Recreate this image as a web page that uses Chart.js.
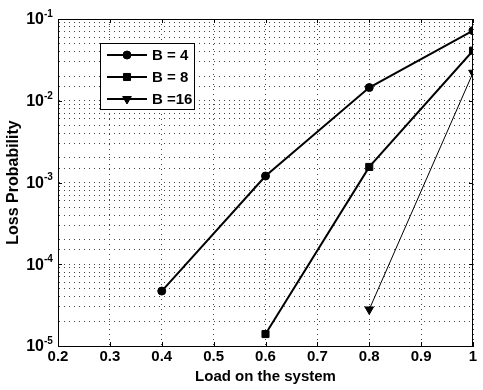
<!DOCTYPE html>
<html>
<head>
<meta charset="utf-8">
<script src="https://cdn.jsdelivr.net/npm/chart.js@4/dist/chart.umd.min.js"></script>
<style>
  html, body { margin: 0; padding: 0; background: #fff; }
  #wrap { width: 483px; height: 390px; }
</style>
</head>
<body>
<div id="wrap"><canvas id="myChart" width="483" height="390"></canvas></div>
<script>
// values
const loads = [0.4, 0.6, 0.8, 1.0];
const lossB4 = [4.7e-5, 1.2e-3, 1.45e-2, 7.2e-2];
const lossB8 = [null, 1.4e-5, 1.55e-3, 4.1e-2];
const lossB16 = [null, null, 2.8e-5, 2.2e-2];
const seriesNames = ['B = 4', 'B = 8', 'B =16'];
const xTickLabels = ['0.2', '0.3', '0.4', '0.5', '0.6', '0.7', '0.8', '0.9', '1'];
const yTickExps = ['-5', '-4', '-3', '-2', '-1'];

const FONT = 'Liberation Sans, Arial, sans-serif';

function toPoints(vals) {
  const pts = [];
  vals.forEach((v, i) => { if (v !== null) pts.push({ x: loads[i], y: v }); });
  return pts;
}

const styles = [
  { pointStyle: 'circle', radius: 4, width: 2 },
  { pointStyle: 'rect', radius: 5, width: 2 },
  { pointStyle: 'triangle', radius: 5, width: 1, rotation: 180 }
];

// frame, inner tick marks, y labels with superscript, boxed legend
const extras = {
  id: 'extras',
  afterDraw(chart) {
    const ctx = chart.ctx;
    const a = chart.chartArea;
    const x = chart.scales.x;
    const y = chart.scales.y;
    ctx.save();
    ctx.strokeStyle = '#000';
    ctx.lineWidth = 1;
    ctx.strokeRect(a.left + 0.5, a.top + 0.5, a.right - a.left - 1, a.bottom - a.top);

    // tick marks pointing inward
    ctx.beginPath();
    xTickLabels.forEach(t => {
      const px = Math.round(x.getPixelForValue(Number(t))) + 0.5;
      ctx.moveTo(px, a.bottom); ctx.lineTo(px, a.bottom - 4);
      ctx.moveTo(px, a.top); ctx.lineTo(px, a.top + 4);
    });
    yTickExps.forEach(e => {
      const py = Math.round(y.getPixelForValue(Math.pow(10, Number(e)))) + 0.5;
      ctx.moveTo(a.left, py); ctx.lineTo(a.left + 4, py);
      ctx.moveTo(a.right, py); ctx.lineTo(a.right - 4, py);
    });
    ctx.stroke();

    // y tick labels 10^n
    ctx.fillStyle = '#000';
    yTickExps.forEach(e => {
      const py = y.getPixelForValue(Math.pow(10, Number(e)));
      ctx.font = 'bold 16px ' + FONT;
      ctx.textAlign = 'right';
      ctx.textBaseline = 'middle';
      ctx.fillText('10', 44, py + 1);
      ctx.font = 'bold 10px ' + FONT;
      ctx.textAlign = 'left';
      ctx.fillText(e, 44, py - 5);
    });

    // legend box
    const lx = 100, ly = 43, lw = 94, lh = 66;
    ctx.fillStyle = '#fff';
    ctx.fillRect(lx, ly, lw, lh);
    ctx.strokeRect(lx + 0.5, ly + 0.5, lw, lh);
    seriesNames.forEach((name, i) => {
      const ry = ly + 12 + i * 22;
      ctx.strokeStyle = '#000';
      ctx.fillStyle = '#000';
      ctx.lineWidth = 2;
      ctx.beginPath();
      ctx.moveTo(107, ry);
      ctx.lineTo(147, ry);
      ctx.stroke();
      const s = styles[i];
      ctx.lineWidth = 1;
      Chart.helpers.drawPoint(ctx, {
        pointStyle: s.pointStyle, radius: s.radius, rotation: s.rotation || 0, borderWidth: 1
      }, 127, ry);
      ctx.font = 'bold 15px ' + FONT;
      ctx.textAlign = 'left';
      ctx.textBaseline = 'middle';
      ctx.fillText(name, 152, ry + 1);
    });
    ctx.restore();
  }
};

new Chart(document.getElementById('myChart'), {
  type: 'scatter',
  data: {
    datasets: [lossB4, lossB8, lossB16].map((vals, i) => ({
      label: seriesNames[i],
      data: toPoints(vals),
      showLine: true,
      borderColor: '#000',
      backgroundColor: '#000',
      borderWidth: styles[i].width,
      pointStyle: styles[i].pointStyle,
      pointRadius: styles[i].radius,
      pointRotation: styles[i].rotation || 0,
      pointBorderWidth: 1,
      tension: 0
    }))
  },
  options: {
    responsive: false,
    animation: false,
    layout: { padding: { top: 19, right: 10, left: 4, bottom: 4 } },
    plugins: {
      legend: { display: false },
      tooltip: { enabled: false }
    },
    scales: {
      x: {
        type: 'linear',
        min: 0.2,
        max: 1,
        afterBuildTicks: (scale) => {
          scale.ticks = xTickLabels.map(t => ({ value: Number(t) }));
        },
        afterFit: (scale) => { scale.height = 40; },
        ticks: {
          autoSkip: false,
          color: '#000',
          font: { family: FONT, size: 15, weight: 'bold' },
          padding: 2,
          callback: (v, i) => xTickLabels[i]
        },
        grid: { color: '#444', lineWidth: 1, drawTicks: false },
        border: { display: true, color: '#000', width: 1, dash: [1, 4] },
        title: {
          display: true,
          text: 'Load on the system',
          color: '#000',
          font: { family: FONT, size: 15, weight: 'bold' },
          padding: { top: 0, bottom: 0 }
        }
      },
      y: {
        type: 'logarithmic',
        min: 1e-5,
        max: 1e-1,
        afterFit: (scale) => { scale.width = 54; },
        ticks: {
          autoSkip: false,
          display: false
        },
        grid: { color: '#444', lineWidth: 1, drawTicks: false },
        border: { display: true, color: '#000', width: 1, dash: [1, 4] },
        title: {
          display: true,
          text: 'Loss Probability',
          color: '#000',
          font: { family: FONT, size: 16, weight: 'bold' },
          padding: { top: 0, bottom: 0 }
        }
      }
    }
  },
  plugins: [extras]
});
</script>
</body>
</html>
